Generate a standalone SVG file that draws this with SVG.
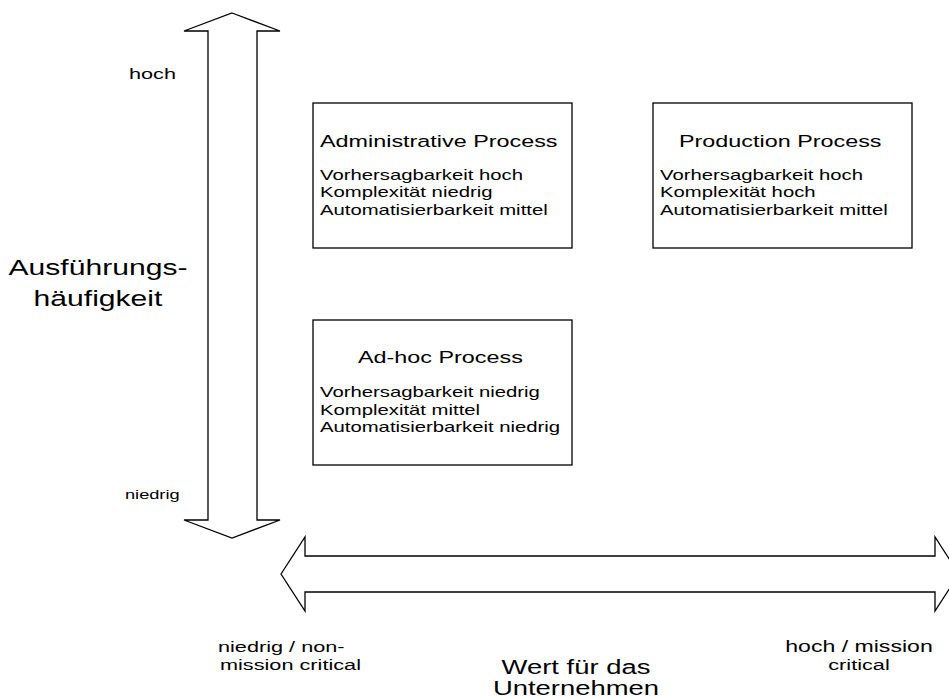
<svg xmlns="http://www.w3.org/2000/svg" width="949" height="698" viewBox="0 0 949 698">
<style>
.ln{fill:#fff;stroke:#000;stroke-width:1.3}
.box{fill:#fff;stroke:#000;stroke-width:1.3}
text{font-family:"Liberation Sans",Arial,sans-serif;fill:#000}
.t{font-size:16.7px}
.b{font-size:14.5px}
.s{font-size:15.5px}
.L{font-size:21.5px}
.W{font-size:19.6px}
.m{text-anchor:middle}
.e{text-anchor:end}
</style>
<rect width="949" height="698" fill="#fff"/>
<g id="connectors">
<polygon class="ln" points="232,13 280,31 257,31 257,520 280,520 232,538 184,520 208,520 208,31 184,31"/>
<polygon class="ln" points="281,574 305,537 305,556 935,556 935,537 959,574 935,611 935,592 305,592 305,611"/>
</g>
<g id="axis-labels" transform="scale(1.4,1)">
<text class="s e" x="125.71" y="79">hoch</text>
<text class="s" x="89.29" y="499" style="font-size:13px">niedrig</text>
<text class="L m" x="70" y="275">Ausführungs-</text>
<text class="L m" x="70" y="306">häufigkeit</text>
<text class="s" x="155.71" y="652">niedrig / non-</text>
<text class="s" x="157.14" y="670">mission critical</text>
<text class="W m" x="411.43" y="674">Wert für das</text>
<text class="W m" x="411.43" y="695">Unternehmen</text>
<text class="s m" x="613.57" y="652" style="font-size:16.5px">hoch / mission</text>
<text class="s m" x="613.57" y="670">critical</text>
</g>
<g id="administrative">
<rect class="box" x="313" y="103" width="259" height="145"/>
<g transform="scale(1.4,1)">
<text class="t" x="228.57" y="147">Administrative Process</text>
<text class="b" x="228.57" y="180">Vorhersagbarkeit hoch</text>
<text class="b" x="228.57" y="197">Komplexität niedrig</text>
<text class="b" x="228.57" y="215">Automatisierbarkeit mittel</text>
</g>
</g>
<g id="production">
<rect class="box" x="653" y="103" width="259" height="145"/>
<g transform="scale(1.4,1)">
<text class="t" x="485" y="147">Production Process</text>
<text class="b" x="471.43" y="180">Vorhersagbarkeit hoch</text>
<text class="b" x="471.43" y="197">Komplexität hoch</text>
<text class="b" x="471.43" y="215">Automatisierbarkeit mittel</text>
</g>
</g>
<g id="adhoc">
<rect class="box" x="313" y="320" width="259" height="145"/>
<g transform="scale(1.4,1)">
<text class="t" x="255.71" y="363">Ad-hoc Process</text>
<text class="b" x="228.57" y="397">Vorhersagbarkeit niedrig</text>
<text class="b" x="228.57" y="415">Komplexität mittel</text>
<text class="b" x="228.57" y="432">Automatisierbarkeit niedrig</text>
</g>
</g>
</svg>
